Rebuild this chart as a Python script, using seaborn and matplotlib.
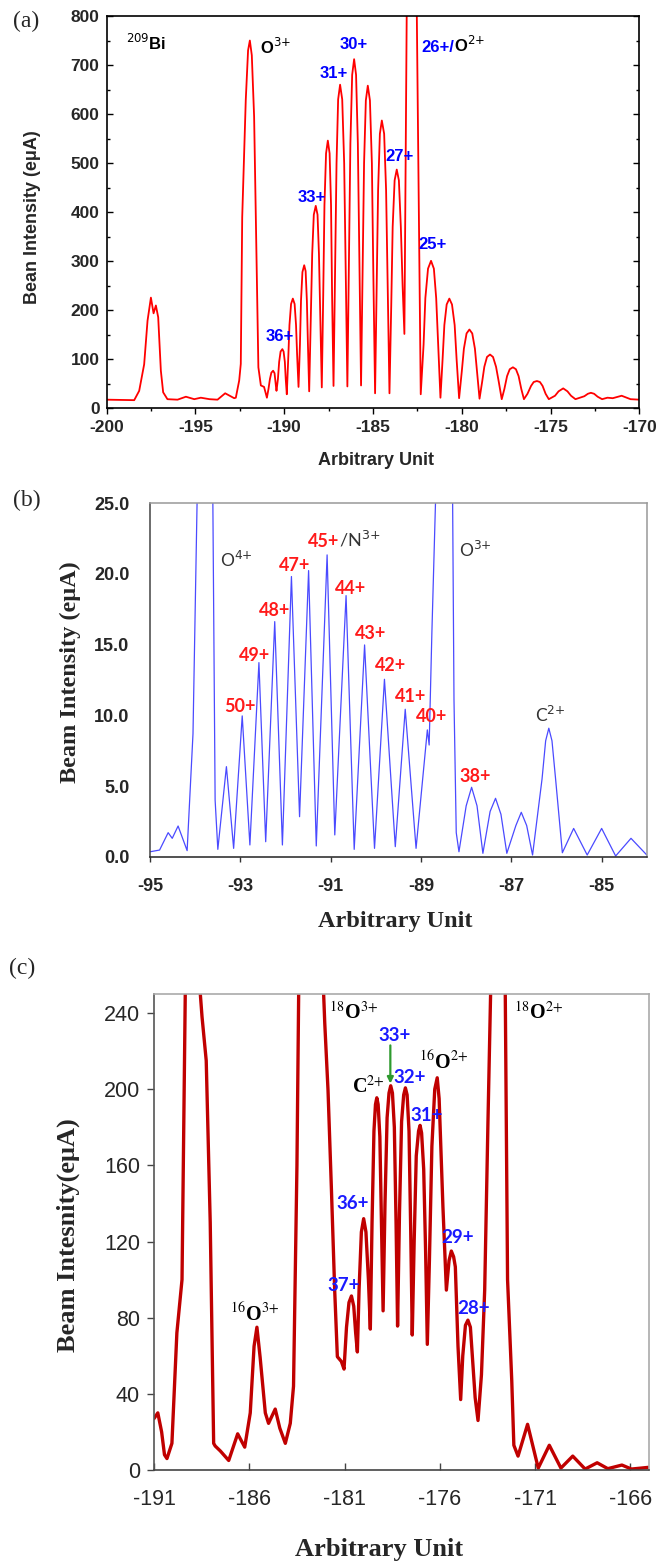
import matplotlib
matplotlib.use("Agg")
import matplotlib.pyplot as plt
from matplotlib.ticker import MultipleLocator
import seaborn as sns

# ---------------- (a) 209Bi spectrum (vertices) ----------------
A_X = [-200.0, -198.44, -198.16, -197.88, -197.69, -197.5, -197.35, -197.22, -197.09, -196.94,
       -196.81, -196.57, -196.0, -195.53, -195.06, -194.69, -194.2, -193.75, -193.32, -192.81,
       -192.72, -192.53, -192.44, -192.36, -192.16, -192.03, -191.93, -191.82, -191.69, -191.56,
       -191.45, -191.31, -191.13, -190.97,
       -190.88, -190.8, -190.72, -190.62, -190.54, -190.5, -190.46, -190.43,
       -190.35, -190.28, -190.2, -190.1, -190.03, -189.96, -189.91, -189.85,
       -189.76, -189.7, -189.61, -189.51, -189.41, -189.33, -189.27, -189.19,
       -189.11, -189.05, -188.97, -188.87, -188.79, -188.72, -188.66, -188.59,
       -188.5, -188.42, -188.33, -188.22, -188.12, -188.04, -187.96, -187.88,
       -187.8, -187.73, -187.64, -187.54, -187.44, -187.36, -187.3, -187.22,
       -187.13, -187.05, -186.96, -186.85, -186.73, -186.62, -186.53, -186.44,
       -186.35, -186.27, -186.17, -186.06, -185.95, -185.85, -185.76, -185.67,
       -185.58, -185.5, -185.4, -185.29, -185.17, -185.06, -184.98, -184.88,
       -184.79, -184.71, -184.61, -184.5, -184.37, -184.26, -184.17, -184.07,
       -183.97, -183.89, -183.78, -183.66, -183.54, -183.43, -183.33, -183.23,
       -183.1, -182.82, -182.53, -182.31,
       -182.15, -182.05, -181.9, -181.73, -181.57, -181.44, -181.33, -181.2,
       -181.08, -180.98, -180.85, -180.7, -180.55, -180.4, -180.29, -180.15,
       -180.0, -179.88, -179.73, -179.57, -179.41, -179.26, -179.14, -179.0,
       -178.85, -178.73, -178.58, -178.41, -178.24, -178.07, -177.92, -177.75,
       -177.6, -177.45, -177.3, -177.12, -176.95, -176.8, -176.65, -176.5,
       -176.3, -176.1, -175.95, -175.77, -175.6, -175.45, -175.28, -175.1,
       -174.75, -174.55, -174.29, -174.05, -173.85, -173.6,
       -173.1, -172.9, -172.73, -172.55, -172.35, -172.1,
       -171.8, -171.5, -171.0, -170.5, -170.0]
A_Y = [18, 17, 36, 90, 179, 226, 194, 210, 186, 77,
       33, 19, 18, 24, 19, 22, 19, 18, 31, 21,
       22, 57, 91, 390, 629, 730, 750, 720, 595, 323,
       84, 47, 44, 22,
       40, 60, 73, 77, 72, 58, 45, 36,
       60, 95, 116, 121, 116, 95, 60, 29,
       110, 170, 213, 224, 213, 170, 110, 44,
       130, 220, 278, 292, 280, 220, 130, 35,
       180, 315, 395, 413, 395, 315, 180, 43,
       230, 415, 520, 546, 520, 415, 230, 46,
       280, 500, 630, 660, 630, 500, 280, 45,
       300, 540, 680, 712, 680, 540, 300, 47,
       280, 500, 628, 658, 628, 500, 280, 31,
       250, 445, 560, 587, 560, 445, 250, 31,
       210, 370, 465, 487, 465, 370, 250, 152,
       800, 1100, 800, 29,
       130, 225, 285, 301, 285, 225, 130, 22,
       100, 170, 212, 224, 212, 170, 100, 21,
       75, 122, 153, 161, 153, 122, 75, 20,
       55, 85, 105, 110, 105, 85, 55, 19,
       40, 66, 80, 84, 80, 66, 40, 19,
       30, 46, 54, 56, 54, 46, 30, 19,
       26, 35, 41, 35, 26, 19,
       25, 30, 32, 30, 24, 19,
       22, 21, 26, 19, 18]
A_XTICKS = [-200, -195, -190, -185, -180, -175, -170]
A_YTICKS = [0, 100, 200, 300, 400, 500, 600, 700, 800]
A_LABELS = ["36+", "33+", "31+", "30+", "27+", "25+"]
A_LABEL_X = [-190.22, -188.45, -187.2, -186.06, -183.51, -181.67]
A_LABEL_Y = [147, 431, 682, 742, 513, 335]

# ---------------- (b) blue spectrum ----------------
B_X = [-95.0, -94.79, -94.6, -94.51, -94.38, -94.18, -94.05, -93.96, -93.88, -93.78,
       -93.68, -93.61, -93.56, -93.5, -93.31, -93.15, -92.96, -92.79, -92.59, -92.44,
       -92.24, -92.07, -91.87, -91.69, -91.49, -91.32, -91.08, -90.91, -90.66, -90.48,
       -90.25, -90.03, -89.81, -89.57, -89.35, -89.11, -88.86, -88.82, -88.76, -88.68,
       -88.6, -88.5, -88.4, -88.3, -88.27, -88.22, -88.16, -88.0, -87.88, -87.76,
       -87.63, -87.47, -87.35, -87.23, -87.1, -86.9, -86.78, -86.66, -86.53, -86.32,
       -86.24, -86.17, -86.1, -86.02, -85.87, -85.62, -85.32, -85.0, -84.69, -84.35,
       -84.0]
B_Y = [0.35, 0.47, 1.7, 1.3, 2.17, 0.43, 8.7, 25, 45, 55,
       45, 25, 4.0, 0.52, 6.37, 0.59, 9.96, 0.83, 13.73, 1.06,
       16.63, 0.83, 19.82, 2.83, 20.24, 0.76, 21.35, 1.54, 18.47, 0.52,
       14.98, 0.59, 12.55, 0.71, 10.43, 0.59, 8.97, 7.9, 15.8, 25,
       50, 60, 50, 25, 11.1, 1.7, 0.35, 3.6, 4.91, 3.6,
       0.24, 3.2, 4.13, 3.0, 0.24, 2.2, 3.14, 2.2, 0.12, 5.5,
       8.2, 9.09, 8.2, 5.5, 0.28, 2.0, 0.12, 2.0, 0.05, 1.3,
       0.12]
B_XTICKS = [-95, -93, -91, -89, -87, -85]
B_YTICKS = [0, 5, 10, 15, 20, 25]
B_LABELS = ["50+", "49+", "48+", "47+", "44+", "43+", "42+", "41+", "40+", "38+"]
B_LABEL_X = [-93.01, -92.69, -92.25, -91.8, -90.56, -90.12, -89.67, -89.22, -88.77, -87.8]
B_LABEL_Y = [10.6, 14.2, 17.4, 20.6, 19.0, 15.8, 13.5, 11.3, 9.9, 5.66]

# ---------------- (c) dark red spectrum ----------------
C_X = [-191.0, -190.8, -190.6, -190.45, -190.32, -190.06, -189.8, -189.53, -189.36, -189.2,
       -188.9, -188.65, -188.57, -188.48, -188.26, -188.05, -187.87, -187.79, -187.52, -187.08,
       -186.61, -186.24, -185.95, -185.75, -185.6, -185.43, -185.16, -184.99, -184.64, -184.4,
       -184.11, -183.85, -183.68, -183.5, -183.41, -183.3, -182.9, -182.4, -182.1, -182.04,
       -181.87, -181.69, -181.52, -181.38, -181.17, -181.03,
       -180.9, -180.77, -180.64, -180.52, -180.42, -180.33,
       -180.24, -180.12, -180.0, -179.88, -179.75, -179.65,
       -179.56, -179.46, -179.38, -179.31, -179.24, -179.15, -179.06, -178.98,
       -178.88, -178.77, -178.67, -178.58, -178.49, -178.39, -178.3, -178.22,
       -178.12, -178.01, -177.9, -177.81, -177.72, -177.62, -177.53, -177.45,
       -177.35, -177.24, -177.12, -177.04, -176.96, -176.85, -176.75, -176.66,
       -176.55, -176.42, -176.27, -176.14, -176.04, -175.97, -175.84, -175.66,
       -175.52, -175.4, -175.28, -175.19, -175.05, -174.91,
       -174.8, -174.66, -174.53, -174.4, -174.3, -174.15, -174.0,
       -173.82, -173.65, -173.48, -173.34, -173.1, -172.8, -172.57, -172.45,
       -172.23, -172.12, -171.9, -171.4, -170.84, -170.26, -169.65, -169.03, -168.38, -167.75,
       -167.19, -166.45, -165.95, -165.05]
C_Y = [27, 30, 20, 8, 6, 14, 72, 100, 250, 350,
       370, 300, 250, 238, 215, 130, 14, 12.6, 10, 5,
       19, 12, 30, 65, 75, 59, 30, 24.5, 32, 22,
       14, 24.5, 44, 160, 250, 330, 360, 300, 250, 234.5,
       199.5, 147, 94.5, 59.5, 57, 53,
       75, 88, 91.4, 86, 72, 62,
       95, 125, 132, 125, 100, 74,
       130, 178, 192, 195.5, 192, 175, 125, 83.6,
       140, 185, 198, 201.8, 198, 180, 130, 75.6,
       135, 183, 197, 200.7, 197, 178, 125, 70.9,
       120, 165, 178, 181, 177, 158, 115, 66,
       110, 170, 200, 206, 195, 175, 138, 94.5,
       110, 115, 112, 106.7, 65, 37,
       60, 76, 78.7, 75, 60, 38, 26,
       50, 94.5, 182, 250, 350, 330, 250, 100,
       47, 13, 7.3, 24, 1, 13, 1, 7.3, 0.5, 3.8,
       0.7, 2.6, 0.5, 1.4]
C_XTICKS = [-191, -186, -181, -176, -171, -166]
C_YTICKS = [0, 40, 80, 120, 160, 200, 240]
C_BLUE_LABELS = ["37+", "36+", "33+", "32+", "31+", "29+", "28+"]
C_BLUE_X = [-181.06, -180.57, -178.39, -177.6, -176.71, -175.06, -174.22]
C_BLUE_Y = [97, 140, 228, 206, 186, 122, 85]
C_ION_LABELS = [r"$^{16}$O$^{3{+}}$", r"$^{18}$O$^{3{+}}$", r"C$^{2{+}}$",
                r"$^{16}$O$^{2{+}}$", r"$^{18}$O$^{2{+}}$"]
C_ION_X = [-185.7, -180.54, -179.75, -175.8, -170.83]
C_ION_Y = [82, 240, 201, 214, 240]

assert len(A_X) == len(A_Y) and len(B_X) == len(B_Y) and len(C_X) == len(C_Y)

# ---------------- style ----------------
sns.set_style("white")
plt.rcParams["font.family"] = ["Liberation Sans", "DejaVu Sans"]
plt.rcParams["axes.unicode_minus"] = False

SANS = "Liberation Sans"
SERIF = "Liberation Serif"
CAL = "Lato"

W, H = 667, 1562
fig = plt.figure(figsize=(W / 100, H / 100), dpi=100)


def add_axes(l, t, r, b):
    return fig.add_axes([l / W, 1 - b / H, (r - l) / W, (b - t) / H])


axA = add_axes(106.5, 16, 639.4, 408.5)
axB = add_axes(150.1, 503.3, 646.8, 856.7)
axC = add_axes(154, 994, 648.6, 1470)

# ---------------- panel (a) ----------------
sns.lineplot(x=A_X, y=A_Y, ax=axA, color="#ff0000", linewidth=1.3,
             estimator=None, sort=False, legend=False)
axA.set_xlim(-200, -170)
axA.set_ylim(0, 800)
axA.set_xticks(A_XTICKS)
axA.set_xticklabels([str(v) for v in A_XTICKS], fontsize=12.5, fontweight="bold", family=SANS)
axA.set_yticks(A_YTICKS)
axA.set_yticklabels([str(v) for v in A_YTICKS], fontsize=12.5, fontweight="bold", family=SANS)
axA.xaxis.set_minor_locator(MultipleLocator(2.5))
axA.yaxis.set_minor_locator(MultipleLocator(50))
axA.tick_params(axis="x", which="both", direction="out", bottom=True, top=False, pad=4)
axA.tick_params(axis="y", which="both", direction="in", left=True, right=True, pad=5)
axA.tick_params(which="major", length=4.5, width=1, color="black")
axA.tick_params(which="minor", length=2.5, width=1, color="black")
for s in axA.spines.values():
    s.set_color("black")
    s.set_linewidth(1.2)
axA.set_xlabel("Arbitrary Unit", fontsize=13, fontweight="bold", family=SANS)
axA.set_ylabel("Bean Intensity (e\u03bcA)", fontsize=13, fontweight="bold", family=SANS)
axA.xaxis.set_label_coords(0.505, -0.133)
axA.yaxis.set_label_coords(-0.138, 0.487)
axA.xaxis.label.set_va("center")
axA.yaxis.label.set_va("center")

for t, x, y in zip(A_LABELS, A_LABEL_X, A_LABEL_Y):
    axA.text(x, y, t, color="#0000ff", fontsize=12, fontweight="bold", family=SANS,
             ha="center", va="center")
axA.text(-197.77, 746, r"$^{209}$Bi", color="black", fontsize=12, fontweight="bold",
         family=SANS, ha="center", va="center")
axA.text(-191.37, 737, r"O$^{3{+}}$", color="black", fontsize=12, fontweight="bold",
         family=SANS, ha="left", va="center")
t26 = axA.text(-182.3, 735, "26+/", color="#0000ff", fontsize=12, fontweight="bold",
               family=SANS, ha="left", va="center")
axA.annotate(r"O$^{2{+}}$", xy=(1, 0), xycoords=t26, ha="left", va="bottom",
             color="black", fontsize=12, fontweight="bold", family=SANS)

# ---------------- panel (b) ----------------
sns.lineplot(x=B_X, y=B_Y, ax=axB, color="#4a4aff", linewidth=0.9,
             estimator=None, sort=False, legend=False)
axB.set_xlim(-95, -84)
axB.set_ylim(0, 25)
axB.set_xticks(B_XTICKS)
axB.set_xticklabels([str(v) for v in B_XTICKS], fontsize=13, fontweight="bold", family=SANS)
axB.set_yticks(B_YTICKS)
axB.set_yticklabels(["%.1f" % v for v in B_YTICKS], fontsize=13, fontweight="bold", family=SANS)
axB.tick_params(axis="x", direction="out", length=3.5, width=1, bottom=True, pad=12, color="#333333")
axB.tick_params(axis="y", length=0, pad=15)
axB.spines["left"].set_color("#444444")
axB.spines["bottom"].set_color("#222222")
axB.spines["top"].set_color("#999999")
axB.spines["right"].set_color("#999999")
for s in axB.spines.values():
    s.set_linewidth(1.1)
axB.set_xlabel("Arbitrary Unit", fontsize=17.5, fontweight="bold", family=SERIF)
axB.set_ylabel("Beam Intensity (e\u03bcA)", fontsize=17.5, fontweight="bold", family=SERIF)
axB.xaxis.set_label_coords(0.494, -0.182)
axB.yaxis.set_label_coords(-0.16, 0.521)
axB.xaxis.label.set_va("center")
axB.yaxis.label.set_va("center")

for t, x, y in zip(B_LABELS, B_LABEL_X, B_LABEL_Y):
    axB.text(x, y, t, color="#ff1a1a", fontsize=13, fontweight="bold", family=CAL,
             ha="center", va="center")
t45 = axB.text(-91.51, 22.3, "45+", color="#ff1a1a", fontsize=13, fontweight="bold",
               family=CAL, ha="left", va="center")
axB.annotate(r"/N$^{3{+}}$", xy=(1, 0), xycoords=t45, ha="left", va="bottom",
             color="#333333", fontsize=13, family=CAL)
axB.text(-93.45, 21.0, r"O$^{4{+}}$", color="#333333", fontsize=12.5, family=CAL,
         ha="left", va="center")
axB.text(-88.15, 21.7, r"O$^{3{+}}$", color="#333333", fontsize=12.5, family=CAL,
         ha="left", va="center")
axB.text(-86.13, 10.0, r"C$^{2{+}}$", color="#333333", fontsize=12.5, family=CAL,
         ha="center", va="center")

# ---------------- panel (c) ----------------
sns.lineplot(x=C_X, y=C_Y, ax=axC, color="#c00000", linewidth=2.4,
             estimator=None, sort=False, legend=False)
axC.set_xlim(-191, -165.05)
axC.set_ylim(0, 250)
axC.set_xticks(C_XTICKS)
axC.set_xticklabels([str(v) for v in C_XTICKS], fontsize=15.5, family=SANS)
axC.set_yticks(C_YTICKS)
axC.set_yticklabels([str(v) for v in C_YTICKS], fontsize=15.5, family=SANS)
axC.tick_params(axis="x", direction="in", length=5, width=1, bottom=True, pad=14, color="#444444")
axC.tick_params(axis="y", direction="out", length=5, width=1, left=True, pad=5, color="#444444")
axC.spines["left"].set_color("#555555")
axC.spines["bottom"].set_color("#444444")
axC.spines["top"].set_color("#aaaaaa")
axC.spines["right"].set_color("#aaaaaa")
for s in axC.spines.values():
    s.set_linewidth(1.2)
axC.set_xlabel("Arbitrary Unit", fontsize=19, fontweight="bold", family=SERIF)
axC.set_ylabel("Beam Intesnity(e\u03bcA)", fontsize=19, fontweight="bold", family=SERIF)
axC.xaxis.set_label_coords(0.456, -0.167)
axC.yaxis.set_label_coords(-0.173, 0.494)
axC.xaxis.label.set_va("center")
axC.yaxis.label.set_va("center")

for t, x, y in zip(C_BLUE_LABELS, C_BLUE_X, C_BLUE_Y):
    axC.text(x, y, t, color="#1a1aff", fontsize=13.5, fontweight="bold", family=CAL,
             ha="center", va="center")
for t, x, y in zip(C_ION_LABELS, C_ION_X, C_ION_Y):
    axC.text(x, y, t, color="black", fontsize=14.5, fontweight="bold", family=SERIF,
             math_fontfamily="stix", ha="center", va="center")
axC.annotate("", xy=(-178.6, 203), xytext=(-178.6, 223),
             arrowprops=dict(arrowstyle="-|>", color="#2e9a2e", lw=1.6, mutation_scale=9,
                             shrinkA=0, shrinkB=0))

# ---------------- panel letters ----------------
for lab, (px, py) in zip(["(a)", "(b)", "(c)"], [(26, 21), (26.5, 500), (22, 968)]):
    fig.text(px / W, 1 - py / H, lab, family=SERIF, fontsize=17, ha="center", va="center")

fig.savefig("out.png", dpi=100)
